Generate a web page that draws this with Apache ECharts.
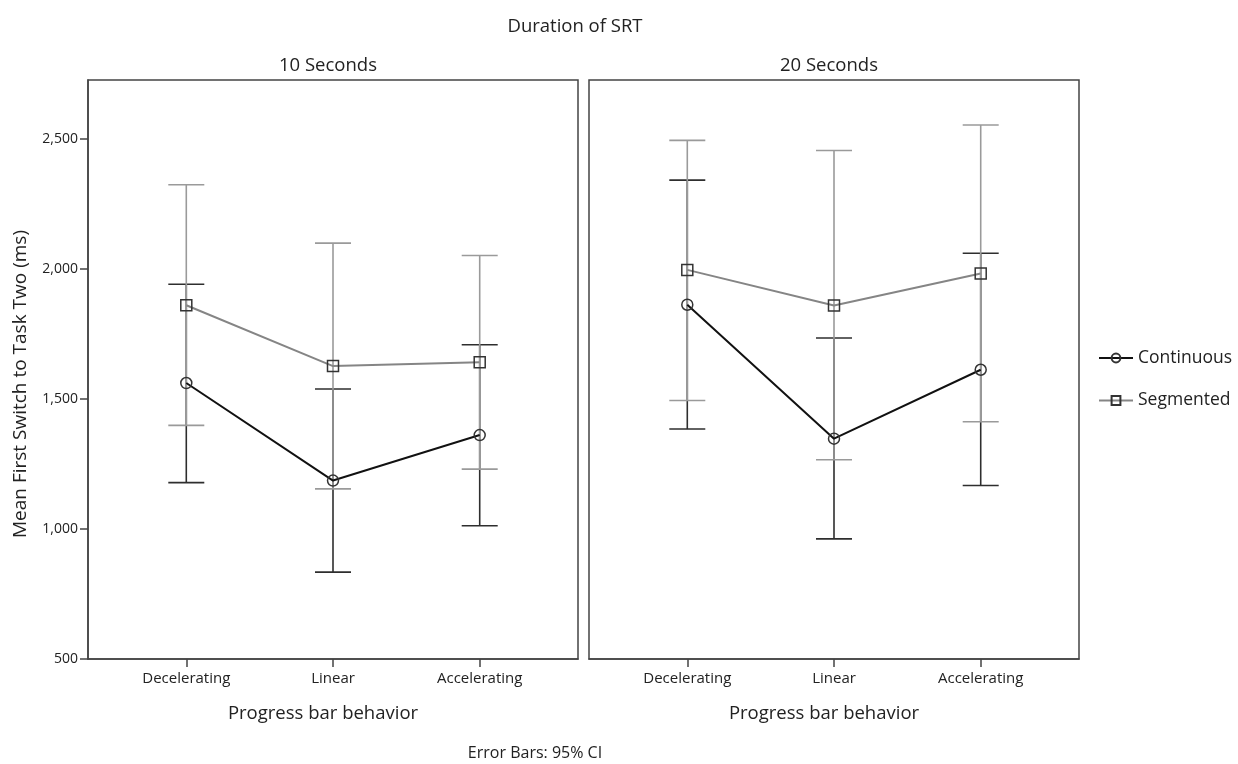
<!DOCTYPE html>
<html>
<head>
<meta charset="utf-8">
<script src="https://cdn.jsdelivr.net/npm/echarts@6/dist/echarts.min.js"></script>
<style>html,body{margin:0;padding:0;background:#fff}#c{width:1238px;height:764px}</style>
</head>
<body>
<div id="c"></div>
<script>
const categories = ['Decelerating', 'Linear', 'Accelerating'];
const panelTitles = ['10 Seconds', '20 Seconds'];
const yTicks = [500, 1000, 1500, 2000, 2500];
const seriesNames = ['Continuous', 'Segmented'];

// 10 Seconds
const cont10Mean = [1561, 1186, 1361];
const cont10Low  = [1178, 834, 1012];
const cont10High = [1941, 1538, 1708];
const seg10Mean  = [1860, 1626, 1641];
const seg10Low   = [1398, 1154, 1230];
const seg10High  = [2323, 2099, 2051];
// 20 Seconds
const cont20Mean = [1862, 1347, 1612];
const cont20Low  = [1384, 962, 1167];
const cont20High = [2341, 1734, 2060];
const seg20Mean  = [1996, 1859, 1982];
const seg20Low   = [1494, 1266, 1412];
const seg20High  = [2494, 2455, 2553];

const FONT = 'Open Sans';
const TXT = '#222';
const FRAME = '#444';

function pts(arr) { return arr.map((v, i) => [i, v]); }
function bars(lo, hi) { return lo.map((v, i) => [i, v, hi[i]]); }

function errBar(name, idx, data, color, z) {
  return {
    type: 'custom', name: name + ' CI', xAxisIndex: idx, yAxisIndex: idx, z: z,
    silent: true, legendHoverLink: false,
    encode: { x: 0, y: [1, 2] },
    data: data,
    renderItem: function (params, api) {
      const x = api.value(0);
      const lo = api.coord([x, api.value(1)]);
      const hi = api.coord([x, api.value(2)]);
      const w = 18;
      const st = { stroke: color, lineWidth: 1.6 };
      return {
        type: 'group',
        children: [
          { type: 'line', shape: { x1: lo[0], y1: lo[1], x2: hi[0], y2: hi[1] }, style: st },
          { type: 'line', shape: { x1: lo[0] - w, y1: lo[1], x2: lo[0] + w, y2: lo[1] }, style: st },
          { type: 'line', shape: { x1: hi[0] - w, y1: hi[1], x2: hi[0] + w, y2: hi[1] }, style: st }
        ]
      };
    }
  };
}

function lineSeries(name, idx, data, lineColor, symbol) {
  return {
    type: 'line', name: name, xAxisIndex: idx, yAxisIndex: idx, z: 5,
    data: data, symbol: symbol, symbolSize: 11, showAllSymbol: true,
    lineStyle: { color: lineColor, width: 2 },
    itemStyle: { color: 'rgba(255,255,255,0)', borderColor: '#333', borderWidth: 1.5 },
    emphasis: { disabled: true },
    animation: false
  };
}

const panelLeft = [88, 589];
const panelWidth = 490;

const grids = panelLeft.map(l => ({
  left: l, top: 80, width: panelWidth, height: 579,
  show: true, borderColor: FRAME, borderWidth: 1.5, backgroundColor: 'transparent'
}));

const xAxes = [0, 1].map(i => ({
  type: 'value', gridIndex: i, min: -0.67, max: 2.67,
  axisLine: { show: true, onZero: false, lineStyle: { color: FRAME, width: 1.5 } },
  axisTick: { show: true, customValues: [0, 1, 2], length: 8, lineStyle: { color: FRAME, width: 1.5 } },
  axisLabel: {
    show: true, customValues: [0, 1, 2], margin: 12,
    fontFamily: FONT, fontSize: 15, color: TXT,
    formatter: v => categories[Math.round(v)]
  },
  splitLine: { show: false }
}));

const yAxes = [0, 1].map(i => ({
  type: 'value', gridIndex: i, min: 500, max: 2726,
  axisLine: { show: i === 0, onZero: false, lineStyle: { color: FRAME, width: 1.5 } },
  axisTick: { show: i === 0, customValues: yTicks, length: 8, lineStyle: { color: FRAME, width: 1.5 } },
  axisLabel: {
    show: i === 0, customValues: yTicks, margin: 10,
    fontFamily: FONT, fontSize: 14, color: TXT,
    formatter: v => v.toLocaleString('en-US')
  },
  splitLine: { show: false }
}));

const CONT_BAR = '#2e2e2e';
const SEG_BAR = '#9a9a9a';
const CONT_LINE = '#111';
const SEG_LINE = '#858585';

const series = [
  errBar('Continuous', 0, bars(cont10Low, cont10High), CONT_BAR, 2),
  errBar('Segmented', 0, bars(seg10Low, seg10High), SEG_BAR, 3),
  errBar('Continuous', 1, bars(cont20Low, cont20High), CONT_BAR, 2),
  errBar('Segmented', 1, bars(seg20Low, seg20High), SEG_BAR, 3),
  lineSeries('Segmented', 0, pts(seg10Mean), SEG_LINE, 'rect'),
  lineSeries('Continuous', 0, pts(cont10Mean), CONT_LINE, 'circle'),
  lineSeries('Segmented', 1, pts(seg20Mean), SEG_LINE, 'rect'),
  lineSeries('Continuous', 1, pts(cont20Mean), CONT_LINE, 'circle')
];

function label(text, x, y, size, rot) {
  return {
    type: 'text', x: x, y: y, rotation: rot || 0, silent: true,
    style: { text: text, fontFamily: FONT, fontSize: size, fill: TXT,
             align: 'center', verticalAlign: 'middle' }
  };
}

const option = {
  animation: false,
  backgroundColor: '#fff',
  graphic: [
    label('Duration of SRT', 575, 27, 18.5),
    label(panelTitles[0], panelLeft[0] + panelWidth / 2 - 5, 66, 18.5),
    label(panelTitles[1], panelLeft[1] + panelWidth / 2 - 5, 66, 18.5),
    label('Progress bar behavior', panelLeft[0] + panelWidth / 2 - 10, 714, 18.5),
    label('Progress bar behavior', panelLeft[1] + panelWidth / 2 - 10, 714, 18.5),
    label('Mean First Switch to Task Two (ms)', 21, 384, 19, Math.PI / 2),
    label('Error Bars: 95% CI', 535, 753, 16)
  ],
  legend: {
    data: seriesNames, orient: 'vertical', left: 1093, top: 344,
    itemWidth: 34, itemHeight: 11, itemGap: 24.5,
    textStyle: { fontFamily: FONT, fontSize: 17.5, color: TXT },
    selectedMode: false
  },
  grid: grids,
  xAxis: xAxes,
  yAxis: yAxes,
  series: series
};

const chart = echarts.init(document.getElementById('c'), null, { renderer: 'canvas' });
chart.setOption(option);
</script>
</body>
</html>
